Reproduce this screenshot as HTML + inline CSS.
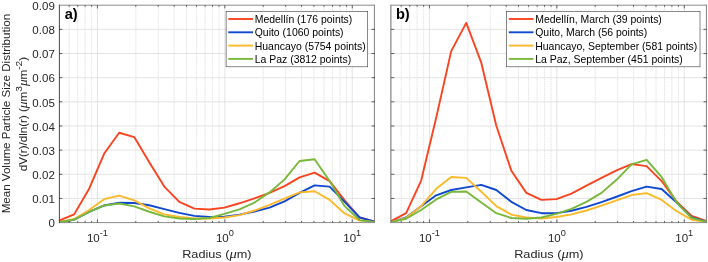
<!DOCTYPE html>
<html><head><meta charset="utf-8"><title>chart</title><style>html,body{margin:0;padding:0;background:#fff}body{width:708px;height:262px;overflow:hidden}</style></head><body>
<svg width="708" height="262" viewBox="0 0 708 262" style="display:block;will-change:transform;font-family:'Liberation Sans',sans-serif">
<rect width="708" height="262" fill="#fff"/>
<g>
<line x1="59.1" x2="374.70000000000005" y1="198.44" y2="198.44" stroke="#d9d9d9" stroke-width="0.7"/>
<line x1="59.1" x2="374.70000000000005" y1="174.29" y2="174.29" stroke="#d9d9d9" stroke-width="0.7"/>
<line x1="59.1" x2="374.70000000000005" y1="150.13" y2="150.13" stroke="#d9d9d9" stroke-width="0.7"/>
<line x1="59.1" x2="374.70000000000005" y1="125.98" y2="125.98" stroke="#d9d9d9" stroke-width="0.7"/>
<line x1="59.1" x2="374.70000000000005" y1="101.82" y2="101.82" stroke="#d9d9d9" stroke-width="0.7"/>
<line x1="59.1" x2="374.70000000000005" y1="77.67" y2="77.67" stroke="#d9d9d9" stroke-width="0.7"/>
<line x1="59.1" x2="374.70000000000005" y1="53.51" y2="53.51" stroke="#d9d9d9" stroke-width="0.7"/>
<line x1="59.1" x2="374.70000000000005" y1="29.36" y2="29.36" stroke="#d9d9d9" stroke-width="0.7"/>
<line x1="69.19" x2="69.19" y1="5.2" y2="222.6" stroke="#e1e1e1" stroke-width="0.9" stroke-dasharray="1.2 0.6"/>
<line x1="77.72" x2="77.72" y1="5.2" y2="222.6" stroke="#e1e1e1" stroke-width="0.9" stroke-dasharray="1.2 0.6"/>
<line x1="85.11" x2="85.11" y1="5.2" y2="222.6" stroke="#e1e1e1" stroke-width="0.9" stroke-dasharray="1.2 0.6"/>
<line x1="91.62" x2="91.62" y1="5.2" y2="222.6" stroke="#e1e1e1" stroke-width="0.9" stroke-dasharray="1.2 0.6"/>
<line x1="135.81" x2="135.81" y1="5.2" y2="222.6" stroke="#e1e1e1" stroke-width="0.9" stroke-dasharray="1.2 0.6"/>
<line x1="158.24" x2="158.24" y1="5.2" y2="222.6" stroke="#e1e1e1" stroke-width="0.9" stroke-dasharray="1.2 0.6"/>
<line x1="174.16" x2="174.16" y1="5.2" y2="222.6" stroke="#e1e1e1" stroke-width="0.9" stroke-dasharray="1.2 0.6"/>
<line x1="186.51" x2="186.51" y1="5.2" y2="222.6" stroke="#e1e1e1" stroke-width="0.9" stroke-dasharray="1.2 0.6"/>
<line x1="196.59" x2="196.59" y1="5.2" y2="222.6" stroke="#e1e1e1" stroke-width="0.9" stroke-dasharray="1.2 0.6"/>
<line x1="205.12" x2="205.12" y1="5.2" y2="222.6" stroke="#e1e1e1" stroke-width="0.9" stroke-dasharray="1.2 0.6"/>
<line x1="212.51" x2="212.51" y1="5.2" y2="222.6" stroke="#e1e1e1" stroke-width="0.9" stroke-dasharray="1.2 0.6"/>
<line x1="219.03" x2="219.03" y1="5.2" y2="222.6" stroke="#e1e1e1" stroke-width="0.9" stroke-dasharray="1.2 0.6"/>
<line x1="263.21" x2="263.21" y1="5.2" y2="222.6" stroke="#e1e1e1" stroke-width="0.9" stroke-dasharray="1.2 0.6"/>
<line x1="285.65" x2="285.65" y1="5.2" y2="222.6" stroke="#e1e1e1" stroke-width="0.9" stroke-dasharray="1.2 0.6"/>
<line x1="301.56" x2="301.56" y1="5.2" y2="222.6" stroke="#e1e1e1" stroke-width="0.9" stroke-dasharray="1.2 0.6"/>
<line x1="313.91" x2="313.91" y1="5.2" y2="222.6" stroke="#e1e1e1" stroke-width="0.9" stroke-dasharray="1.2 0.6"/>
<line x1="324.00" x2="324.00" y1="5.2" y2="222.6" stroke="#e1e1e1" stroke-width="0.9" stroke-dasharray="1.2 0.6"/>
<line x1="332.53" x2="332.53" y1="5.2" y2="222.6" stroke="#e1e1e1" stroke-width="0.9" stroke-dasharray="1.2 0.6"/>
<line x1="339.92" x2="339.92" y1="5.2" y2="222.6" stroke="#e1e1e1" stroke-width="0.9" stroke-dasharray="1.2 0.6"/>
<line x1="346.44" x2="346.44" y1="5.2" y2="222.6" stroke="#e1e1e1" stroke-width="0.9" stroke-dasharray="1.2 0.6"/>
<line x1="97.45" x2="97.45" y1="5.2" y2="222.6" stroke="#d9d9d9" stroke-width="0.7"/>
<line x1="224.86" x2="224.86" y1="5.2" y2="222.6" stroke="#d9d9d9" stroke-width="0.7"/>
<line x1="352.26" x2="352.26" y1="5.2" y2="222.6" stroke="#d9d9d9" stroke-width="0.7"/>
<polyline points="59.10,220.67 74.13,214.39 89.16,188.66 104.19,153.52 119.21,132.74 134.24,137.09 149.27,162.21 164.30,186.61 179.33,201.83 194.36,208.59 209.39,209.56 224.41,207.62 239.44,203.28 254.47,198.44 269.50,192.89 284.53,186.13 299.56,177.43 314.59,172.60 329.61,181.05 344.64,200.38 359.67,217.53 374.70,221.63" fill="none" stroke="#fa4420" stroke-width="1.9" stroke-linejoin="round"/>
<polyline points="59.10,222.12 74.13,219.70 89.16,211.97 104.19,205.45 119.21,202.79 134.24,203.03 149.27,205.21 164.30,209.07 179.33,212.94 194.36,215.84 209.39,217.04 224.41,216.80 239.44,214.63 254.47,211.49 269.50,207.62 284.53,201.34 299.56,192.89 314.59,185.40 329.61,186.61 344.64,201.83 359.67,217.53 374.70,221.63" fill="none" stroke="#1048d0" stroke-width="1.9" stroke-linejoin="round"/>
<polyline points="59.10,222.12 74.13,218.98 89.16,210.04 104.19,199.17 119.21,195.55 134.24,200.38 149.27,208.35 164.30,214.39 179.33,217.04 194.36,218.49 209.39,218.49 224.41,217.53 239.44,215.11 254.47,210.52 269.50,204.97 284.53,198.69 299.56,192.41 314.59,191.20 329.61,199.89 344.64,213.42 359.67,220.67 374.70,222.12" fill="none" stroke="#fdb92a" stroke-width="1.9" stroke-linejoin="round"/>
<polyline points="59.10,222.12 74.13,219.70 89.16,211.97 104.19,205.45 119.21,203.52 134.24,206.42 149.27,211.73 164.30,216.32 179.33,218.49 194.36,218.98 209.39,218.01 224.41,213.90 239.44,209.31 254.47,202.55 269.50,192.41 284.53,179.36 299.56,161.00 314.59,159.31 329.61,181.05 344.64,206.17 359.67,220.18 374.70,222.12" fill="none" stroke="#78b83a" stroke-width="1.9" stroke-linejoin="round"/>
<path d="M59.1 5.2H374.70000000000005M59.1 222.6H374.70000000000005" fill="none" stroke="#8c8c8c" stroke-width="1"/>
<path d="M59.40 4.7V223.1" fill="none" stroke="#484848" stroke-width="1"/>
<path d="M374.40 4.7V223.1" fill="none" stroke="#808080" stroke-width="1"/>
<path d="M59.1 198.44h3.2M374.70000000000005 198.44h-3.2M59.1 174.29h3.2M374.70000000000005 174.29h-3.2M59.1 150.13h3.2M374.70000000000005 150.13h-3.2M59.1 125.98h3.2M374.70000000000005 125.98h-3.2M59.1 101.82h3.2M374.70000000000005 101.82h-3.2M59.1 77.67h3.2M374.70000000000005 77.67h-3.2M59.1 53.51h3.2M374.70000000000005 53.51h-3.2M59.1 29.36h3.2M374.70000000000005 29.36h-3.2M69.19 222.6v-1.6M69.19 5.2v1.6M77.72 222.6v-1.6M77.72 5.2v1.6M85.11 222.6v-1.6M85.11 5.2v1.6M91.62 222.6v-1.6M91.62 5.2v1.6M135.81 222.6v-1.6M135.81 5.2v1.6M158.24 222.6v-1.6M158.24 5.2v1.6M174.16 222.6v-1.6M174.16 5.2v1.6M186.51 222.6v-1.6M186.51 5.2v1.6M196.59 222.6v-1.6M196.59 5.2v1.6M205.12 222.6v-1.6M205.12 5.2v1.6M212.51 222.6v-1.6M212.51 5.2v1.6M219.03 222.6v-1.6M219.03 5.2v1.6M263.21 222.6v-1.6M263.21 5.2v1.6M285.65 222.6v-1.6M285.65 5.2v1.6M301.56 222.6v-1.6M301.56 5.2v1.6M313.91 222.6v-1.6M313.91 5.2v1.6M324.00 222.6v-1.6M324.00 5.2v1.6M332.53 222.6v-1.6M332.53 5.2v1.6M339.92 222.6v-1.6M339.92 5.2v1.6M346.44 222.6v-1.6M346.44 5.2v1.6M97.45 222.6v-3.2M97.45 5.2v3.2M224.86 222.6v-3.2M224.86 5.2v3.2M352.26 222.6v-3.2M352.26 5.2v3.2" stroke="#262626" stroke-width="0.7" fill="none"/>
<text transform="translate(97.45,241.80) scale(1.11,1)" font-size="10.4" fill="#262626" text-anchor="middle">10<tspan font-size="8.3" dy="-5.7">-1</tspan></text>
<text transform="translate(224.86,241.80) scale(1.11,1)" font-size="10.4" fill="#262626" text-anchor="middle">10<tspan font-size="8.3" dy="-5.7">0</tspan></text>
<text transform="translate(352.26,241.80) scale(1.11,1)" font-size="10.4" fill="#262626" text-anchor="middle">10<tspan font-size="8.3" dy="-5.7">1</tspan></text>
<text transform="translate(54.80,227.40) scale(1.11,1)" font-size="10.4" fill="#262626" text-anchor="end">0</text>
<text transform="translate(54.80,203.24) scale(1.11,1)" font-size="10.4" fill="#262626" text-anchor="end">0.01</text>
<text transform="translate(54.80,179.09) scale(1.11,1)" font-size="10.4" fill="#262626" text-anchor="end">0.02</text>
<text transform="translate(54.80,154.93) scale(1.11,1)" font-size="10.4" fill="#262626" text-anchor="end">0.03</text>
<text transform="translate(54.80,130.78) scale(1.11,1)" font-size="10.4" fill="#262626" text-anchor="end">0.04</text>
<text transform="translate(54.80,106.62) scale(1.11,1)" font-size="10.4" fill="#262626" text-anchor="end">0.05</text>
<text transform="translate(54.80,82.47) scale(1.11,1)" font-size="10.4" fill="#262626" text-anchor="end">0.06</text>
<text transform="translate(54.80,58.31) scale(1.11,1)" font-size="10.4" fill="#262626" text-anchor="end">0.07</text>
<text transform="translate(54.80,34.16) scale(1.11,1)" font-size="10.4" fill="#262626" text-anchor="end">0.08</text>
<text transform="translate(54.80,10.00) scale(1.11,1)" font-size="10.4" fill="#262626" text-anchor="end">0.09</text>
<text transform="translate(216.90,257.50) scale(1.11,1)" font-size="11.45" fill="#262626" text-anchor="middle">Radius (<tspan font-style="italic" font-size="1.15em" font-family="'Liberation Serif',serif">μ</tspan>m)</text>
<text x="64.70" y="18.9" font-size="14.6" font-weight="bold" fill="#000">a)</text>
<rect x="226.1" y="11.3" width="141.6" height="55.5" fill="#fff" stroke="#3a3a3a" stroke-width="0.6"/>
<line x1="228.30" x2="253.00" y1="19.00" y2="19.00" stroke="#fa4420" stroke-width="1.9"/>
<text transform="translate(254.70,23.00) scale(1,1)" font-size="10.46" fill="#000" text-anchor="start">Medellín (176 points)</text>
<line x1="228.30" x2="253.00" y1="32.30" y2="32.30" stroke="#1048d0" stroke-width="1.9"/>
<text transform="translate(254.70,36.30) scale(1,1)" font-size="10.46" fill="#000" text-anchor="start">Quito (1060 points)</text>
<line x1="228.30" x2="253.00" y1="45.60" y2="45.60" stroke="#fdb92a" stroke-width="1.9"/>
<text transform="translate(254.70,49.60) scale(1,1)" font-size="10.46" fill="#000" text-anchor="start">Huancayo (5754 points)</text>
<line x1="228.30" x2="253.00" y1="58.90" y2="58.90" stroke="#78b83a" stroke-width="1.9"/>
<text transform="translate(254.70,62.90) scale(1,1)" font-size="10.46" fill="#000" text-anchor="start">La Paz (3812 points)</text>
</g>
<g>
<line x1="391.1" x2="706.7" y1="198.44" y2="198.44" stroke="#d9d9d9" stroke-width="0.7"/>
<line x1="391.1" x2="706.7" y1="174.29" y2="174.29" stroke="#d9d9d9" stroke-width="0.7"/>
<line x1="391.1" x2="706.7" y1="150.13" y2="150.13" stroke="#d9d9d9" stroke-width="0.7"/>
<line x1="391.1" x2="706.7" y1="125.98" y2="125.98" stroke="#d9d9d9" stroke-width="0.7"/>
<line x1="391.1" x2="706.7" y1="101.82" y2="101.82" stroke="#d9d9d9" stroke-width="0.7"/>
<line x1="391.1" x2="706.7" y1="77.67" y2="77.67" stroke="#d9d9d9" stroke-width="0.7"/>
<line x1="391.1" x2="706.7" y1="53.51" y2="53.51" stroke="#d9d9d9" stroke-width="0.7"/>
<line x1="391.1" x2="706.7" y1="29.36" y2="29.36" stroke="#d9d9d9" stroke-width="0.7"/>
<line x1="401.19" x2="401.19" y1="5.2" y2="222.6" stroke="#e1e1e1" stroke-width="0.9" stroke-dasharray="1.2 0.6"/>
<line x1="409.72" x2="409.72" y1="5.2" y2="222.6" stroke="#e1e1e1" stroke-width="0.9" stroke-dasharray="1.2 0.6"/>
<line x1="417.11" x2="417.11" y1="5.2" y2="222.6" stroke="#e1e1e1" stroke-width="0.9" stroke-dasharray="1.2 0.6"/>
<line x1="423.62" x2="423.62" y1="5.2" y2="222.6" stroke="#e1e1e1" stroke-width="0.9" stroke-dasharray="1.2 0.6"/>
<line x1="467.81" x2="467.81" y1="5.2" y2="222.6" stroke="#e1e1e1" stroke-width="0.9" stroke-dasharray="1.2 0.6"/>
<line x1="490.24" x2="490.24" y1="5.2" y2="222.6" stroke="#e1e1e1" stroke-width="0.9" stroke-dasharray="1.2 0.6"/>
<line x1="506.16" x2="506.16" y1="5.2" y2="222.6" stroke="#e1e1e1" stroke-width="0.9" stroke-dasharray="1.2 0.6"/>
<line x1="518.51" x2="518.51" y1="5.2" y2="222.6" stroke="#e1e1e1" stroke-width="0.9" stroke-dasharray="1.2 0.6"/>
<line x1="528.59" x2="528.59" y1="5.2" y2="222.6" stroke="#e1e1e1" stroke-width="0.9" stroke-dasharray="1.2 0.6"/>
<line x1="537.12" x2="537.12" y1="5.2" y2="222.6" stroke="#e1e1e1" stroke-width="0.9" stroke-dasharray="1.2 0.6"/>
<line x1="544.51" x2="544.51" y1="5.2" y2="222.6" stroke="#e1e1e1" stroke-width="0.9" stroke-dasharray="1.2 0.6"/>
<line x1="551.03" x2="551.03" y1="5.2" y2="222.6" stroke="#e1e1e1" stroke-width="0.9" stroke-dasharray="1.2 0.6"/>
<line x1="595.21" x2="595.21" y1="5.2" y2="222.6" stroke="#e1e1e1" stroke-width="0.9" stroke-dasharray="1.2 0.6"/>
<line x1="617.65" x2="617.65" y1="5.2" y2="222.6" stroke="#e1e1e1" stroke-width="0.9" stroke-dasharray="1.2 0.6"/>
<line x1="633.56" x2="633.56" y1="5.2" y2="222.6" stroke="#e1e1e1" stroke-width="0.9" stroke-dasharray="1.2 0.6"/>
<line x1="645.91" x2="645.91" y1="5.2" y2="222.6" stroke="#e1e1e1" stroke-width="0.9" stroke-dasharray="1.2 0.6"/>
<line x1="656.00" x2="656.00" y1="5.2" y2="222.6" stroke="#e1e1e1" stroke-width="0.9" stroke-dasharray="1.2 0.6"/>
<line x1="664.53" x2="664.53" y1="5.2" y2="222.6" stroke="#e1e1e1" stroke-width="0.9" stroke-dasharray="1.2 0.6"/>
<line x1="671.92" x2="671.92" y1="5.2" y2="222.6" stroke="#e1e1e1" stroke-width="0.9" stroke-dasharray="1.2 0.6"/>
<line x1="678.44" x2="678.44" y1="5.2" y2="222.6" stroke="#e1e1e1" stroke-width="0.9" stroke-dasharray="1.2 0.6"/>
<line x1="429.45" x2="429.45" y1="5.2" y2="222.6" stroke="#d9d9d9" stroke-width="0.7"/>
<line x1="556.86" x2="556.86" y1="5.2" y2="222.6" stroke="#d9d9d9" stroke-width="0.7"/>
<line x1="684.26" x2="684.26" y1="5.2" y2="222.6" stroke="#d9d9d9" stroke-width="0.7"/>
<polyline points="391.10,221.15 406.13,213.18 421.16,180.57 436.19,117.76 451.21,51.10 466.24,22.83 481.27,62.69 496.30,125.74 511.33,170.67 526.36,192.89 541.39,199.89 556.41,199.17 571.44,193.61 586.47,185.64 601.50,177.91 616.53,170.42 631.56,164.14 646.59,166.08 661.61,181.05 676.64,201.58 691.67,215.84 706.70,221.15" fill="none" stroke="#fa4420" stroke-width="1.9" stroke-linejoin="round"/>
<polyline points="391.10,222.12 406.13,217.53 421.16,206.17 436.19,195.30 451.21,189.99 466.24,187.33 481.27,184.92 496.30,189.99 511.33,201.83 526.36,210.04 541.39,213.18 556.41,213.18 571.44,210.76 586.47,206.90 601.50,202.07 616.53,196.75 631.56,191.20 646.59,186.61 661.61,189.02 676.64,202.55 691.67,217.53 706.70,221.63" fill="none" stroke="#1048d0" stroke-width="1.9" stroke-linejoin="round"/>
<polyline points="391.10,222.12 406.13,218.01 421.16,206.17 436.19,188.78 451.21,176.95 466.24,177.91 481.27,191.68 496.30,206.17 511.33,214.63 526.36,217.53 541.39,218.49 556.41,217.04 571.44,214.39 586.47,210.52 601.50,205.69 616.53,200.38 631.56,195.06 646.59,193.13 661.61,199.89 676.64,211.25 691.67,219.70 706.70,221.88" fill="none" stroke="#fdb92a" stroke-width="1.9" stroke-linejoin="round"/>
<polyline points="391.10,222.12 406.13,218.74 421.16,210.04 436.19,199.41 451.21,191.92 466.24,191.44 481.27,202.55 496.30,213.18 511.33,218.01 526.36,218.74 541.39,217.53 556.41,213.90 571.44,208.83 586.47,201.83 601.50,192.89 616.53,179.84 631.56,164.39 646.59,159.80 661.61,176.95 676.64,202.55 691.67,218.01 706.70,221.88" fill="none" stroke="#78b83a" stroke-width="1.9" stroke-linejoin="round"/>
<path d="M391.1 5.2H706.7M391.1 222.6H706.7" fill="none" stroke="#8c8c8c" stroke-width="1"/>
<path d="M390.90 4.7V223.1" fill="none" stroke="#6a6a6a" stroke-width="1"/>
<path d="M706.40 4.7V223.1" fill="none" stroke="#808080" stroke-width="1"/>
<path d="M391.1 198.44h3.2M706.7 198.44h-3.2M391.1 174.29h3.2M706.7 174.29h-3.2M391.1 150.13h3.2M706.7 150.13h-3.2M391.1 125.98h3.2M706.7 125.98h-3.2M391.1 101.82h3.2M706.7 101.82h-3.2M391.1 77.67h3.2M706.7 77.67h-3.2M391.1 53.51h3.2M706.7 53.51h-3.2M391.1 29.36h3.2M706.7 29.36h-3.2M401.19 222.6v-1.6M401.19 5.2v1.6M409.72 222.6v-1.6M409.72 5.2v1.6M417.11 222.6v-1.6M417.11 5.2v1.6M423.62 222.6v-1.6M423.62 5.2v1.6M467.81 222.6v-1.6M467.81 5.2v1.6M490.24 222.6v-1.6M490.24 5.2v1.6M506.16 222.6v-1.6M506.16 5.2v1.6M518.51 222.6v-1.6M518.51 5.2v1.6M528.59 222.6v-1.6M528.59 5.2v1.6M537.12 222.6v-1.6M537.12 5.2v1.6M544.51 222.6v-1.6M544.51 5.2v1.6M551.03 222.6v-1.6M551.03 5.2v1.6M595.21 222.6v-1.6M595.21 5.2v1.6M617.65 222.6v-1.6M617.65 5.2v1.6M633.56 222.6v-1.6M633.56 5.2v1.6M645.91 222.6v-1.6M645.91 5.2v1.6M656.00 222.6v-1.6M656.00 5.2v1.6M664.53 222.6v-1.6M664.53 5.2v1.6M671.92 222.6v-1.6M671.92 5.2v1.6M678.44 222.6v-1.6M678.44 5.2v1.6M429.45 222.6v-3.2M429.45 5.2v3.2M556.86 222.6v-3.2M556.86 5.2v3.2M684.26 222.6v-3.2M684.26 5.2v3.2" stroke="#262626" stroke-width="0.7" fill="none"/>
<text transform="translate(429.45,241.80) scale(1.11,1)" font-size="10.4" fill="#262626" text-anchor="middle">10<tspan font-size="8.3" dy="-5.7">-1</tspan></text>
<text transform="translate(556.86,241.80) scale(1.11,1)" font-size="10.4" fill="#262626" text-anchor="middle">10<tspan font-size="8.3" dy="-5.7">0</tspan></text>
<text transform="translate(684.26,241.80) scale(1.11,1)" font-size="10.4" fill="#262626" text-anchor="middle">10<tspan font-size="8.3" dy="-5.7">1</tspan></text>
<text transform="translate(548.90,257.50) scale(1.11,1)" font-size="11.45" fill="#262626" text-anchor="middle">Radius (<tspan font-style="italic" font-size="1.15em" font-family="'Liberation Serif',serif">μ</tspan>m)</text>
<text x="395.90" y="18.9" font-size="14.6" font-weight="bold" fill="#000">b)</text>
<rect x="506.6" y="11.3" width="193.39999999999998" height="55.5" fill="#fff" stroke="#3a3a3a" stroke-width="0.6"/>
<line x1="508.80" x2="533.50" y1="19.00" y2="19.00" stroke="#fa4420" stroke-width="1.9"/>
<text transform="translate(535.20,23.00) scale(1,1)" font-size="10.46" fill="#000" text-anchor="start">Medellín, March (39 points)</text>
<line x1="508.80" x2="533.50" y1="32.30" y2="32.30" stroke="#1048d0" stroke-width="1.9"/>
<text transform="translate(535.20,36.30) scale(1,1)" font-size="10.46" fill="#000" text-anchor="start">Quito, March (56 points)</text>
<line x1="508.80" x2="533.50" y1="45.60" y2="45.60" stroke="#fdb92a" stroke-width="1.9"/>
<text transform="translate(535.20,49.60) scale(1,1)" font-size="10.46" fill="#000" text-anchor="start">Huancayo, September (581 points)</text>
<line x1="508.80" x2="533.50" y1="58.90" y2="58.90" stroke="#78b83a" stroke-width="1.9"/>
<text transform="translate(535.20,62.90) scale(1,1)" font-size="10.46" fill="#000" text-anchor="start">La Paz, September (451 points)</text>
</g>
<text transform="translate(10.20,113.60) rotate(-90) scale(1.11,1)" font-size="10.45" fill="#262626" text-anchor="middle">Mean Volume Particle Size Distribution</text>
<text transform="translate(27.00,114.00) rotate(-90) scale(1.11,1)" font-size="10.45" fill="#262626" text-anchor="middle">dV(r)/dln(r) (<tspan font-style="italic" font-size="1.15em" font-family="'Liberation Serif',serif">μ</tspan>m<tspan font-size="9.2" dy="-4.6">3</tspan><tspan dy="4.6"><tspan font-style="italic" font-size="1.15em" font-family="'Liberation Serif',serif">μ</tspan>m</tspan><tspan font-size="9.2" dy="-4.6">-2</tspan><tspan dy="4.6">)</tspan></text>
</svg>
</body></html>
